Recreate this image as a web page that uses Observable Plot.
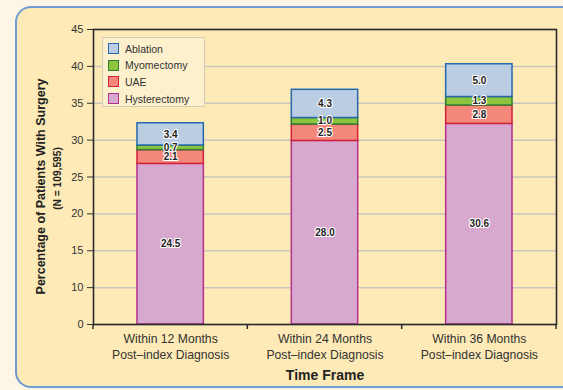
<!DOCTYPE html>
<html>
<head>
<meta charset="utf-8">
<script src="https://cdn.jsdelivr.net/npm/d3@7"></script>
<script src="https://cdn.jsdelivr.net/npm/@observablehq/plot@0.6"></script>
<style>
  html, body { margin: 0; padding: 0; width: 563px; height: 390px; overflow: hidden; background: #fdf6e6;
    font-family: "Liberation Sans", Arial, sans-serif; }
  #panel { position: absolute; left: 15px; top: 6px; right: -40px; height: 382px; box-sizing: border-box;
    border: 2px solid #6f9bd0; border-right: none; border-radius: 16px 0 0 16px; background: #feeab6; }
  #chart { position: absolute; left: 0; top: 0; }
  #legend { position: absolute; left: 102px; top: 37px; width: 103px; height: 70px; box-sizing: border-box;
    border: 1px solid #d3ccb4; background: #fdf0cc; }
  .row { position: absolute; left: 5px; height: 12px; display: flex; align-items: center;
    font-size: 10.5px; color: #333; white-space: nowrap; }
  .sw { width: 11px; height: 11px; box-sizing: border-box; border: 1.5px solid; margin-right: 6px; }
</style>
</head>
<body>
<div id="panel"></div>
<div id="chart"></div>
<div id="legend"></div>
<script>
// Share of patients with each surgery type, cumulative by time since index diagnosis
const timeFrames = ["Within 12 Months", "Within 24 Months", "Within 36 Months"];
const subLabel = "Post–index Diagnosis";
const surgeryTypes = ["Hysterectomy", "UAE", "Myomectomy", "Ablation"]; // bottom to top
const hysterectomy = [24.5, 28.0, 30.6];
const uae = [2.1, 2.5, 2.8];
const myomectomy = [0.7, 1.0, 1.3];
const ablation = [3.4, 4.3, 5.0];
const yTickLabels = ["0", "10", "15", "20", "25", "30", "35", "40", "45"];

const fills = { Hysterectomy: "#d8a9ce", UAE: "#f4887b", Myomectomy: "#8cc43f", Ablation: "#bacde3" };
const strokes = { Hysterectomy: "#b3308f", UAE: "#d21f3c", Myomectomy: "#2f7d32", Ablation: "#2468ad" };

const series = { Hysterectomy: hysterectomy, UAE: uae, Myomectomy: myomectomy, Ablation: ablation };
const rows = surgeryTypes.flatMap(type =>
  timeFrames.map((frame, i) => ({ frame, type, value: series[type][i] })));

const yMax = 45;
const yTicks = yTickLabels.map((_, i) => i * yMax / (yTickLabels.length - 1));

// short ticks under the x axis, at the edges of each time-frame band
const bandEdges = (index, scales, values, dimensions) => {
  const x = scales.x;
  const [r0] = x.range();
  const step = x.step();
  const y0 = dimensions.height - dimensions.marginBottom;
  const g = d3.create("svg:g").attr("stroke", "#2b2b2b").attr("stroke-width", 1.5);
  for (let i = 0; i <= timeFrames.length; i++) {
    const xx = r0 + i * step;
    g.append("line").attr("x1", xx).attr("x2", xx).attr("y1", y0).attr("y2", y0 + 5);
  }
  return g.node();
};

const chart = Plot.plot({
  width: 563,
  height: 390,
  marginLeft: 93,
  marginRight: 7,
  marginTop: 29,
  marginBottom: 66,
  style: { background: "transparent", fontFamily: "Liberation Sans, Arial, sans-serif", fontSize: "11px", color: "#333", overflow: "visible" },
  x: { domain: timeFrames, paddingInner: 0.57, paddingOuter: 0.285, round: false, axis: null },
  y: { domain: [0, yMax], ticks: yTicks, tickFormat: d => yTickLabels[yTicks.indexOf(d)], tickSize: 6, tickPadding: 4, label: null },
  color: { type: "identity" },
  marks: [
    Plot.ruleY(yTicks, { stroke: "#c9c6bd", strokeWidth: 1.5 }),
    Plot.barY(rows, {
      x: "frame", y: "value", z: "type", order: surgeryTypes,
      fill: d => fills[d.type], stroke: d => strokes[d.type], strokeWidth: 1.5
    }),
    Plot.text(rows, Plot.stackY({
      x: "frame", y: "value", z: "type", order: surgeryTypes,
      text: d => d.value.toFixed(1),
      fontSize: 10, fontWeight: "bold", fill: "#222", stroke: "white", strokeWidth: 2.2
    })),
    Plot.frame({ stroke: "#2b2b2b", strokeWidth: 1.6 }),
    bandEdges,
    Plot.text(timeFrames, {
      x: d => d, frameAnchor: "bottom", text: d => d + "\n" + subLabel,
      lineAnchor: "top", dy: 7.5, lineHeight: 1.3, fontSize: 12.2, fill: "#333"
    }),
    Plot.text(["Time Frame"], { frameAnchor: "bottom", text: d => d, dy: 55.5, fontSize: 14, fontWeight: "bold", fill: "#222" }),
    Plot.text(["Percentage of Patients With Surgery"], {
      frameAnchor: "left", textAnchor: "middle", text: d => d, rotate: -90, dx: -53, dy: 9.5,
      fontSize: 12.5, fontWeight: "bold", fill: "#222"
    }),
    Plot.text(["(N = 109,595)"], {
      frameAnchor: "left", textAnchor: "middle", text: d => d, rotate: -90, dx: -36, dy: 1.5,
      fontSize: 10.2, fontWeight: "bold", fill: "#222"
    })
  ]
});
document.getElementById("chart").appendChild(chart);

// legend, top to bottom in the same order as the stack from the top
const legend = d3.select("#legend");
surgeryTypes.slice().reverse().forEach((type, i) => {
  const row = legend.append("div").attr("class", "row").style("top", (4.5 + i * 16.7) + "px");
  row.append("div").attr("class", "sw").style("background", fills[type]).style("border-color", strokes[type]);
  row.append("span").text(type);
});
</script>
</body>
</html>
